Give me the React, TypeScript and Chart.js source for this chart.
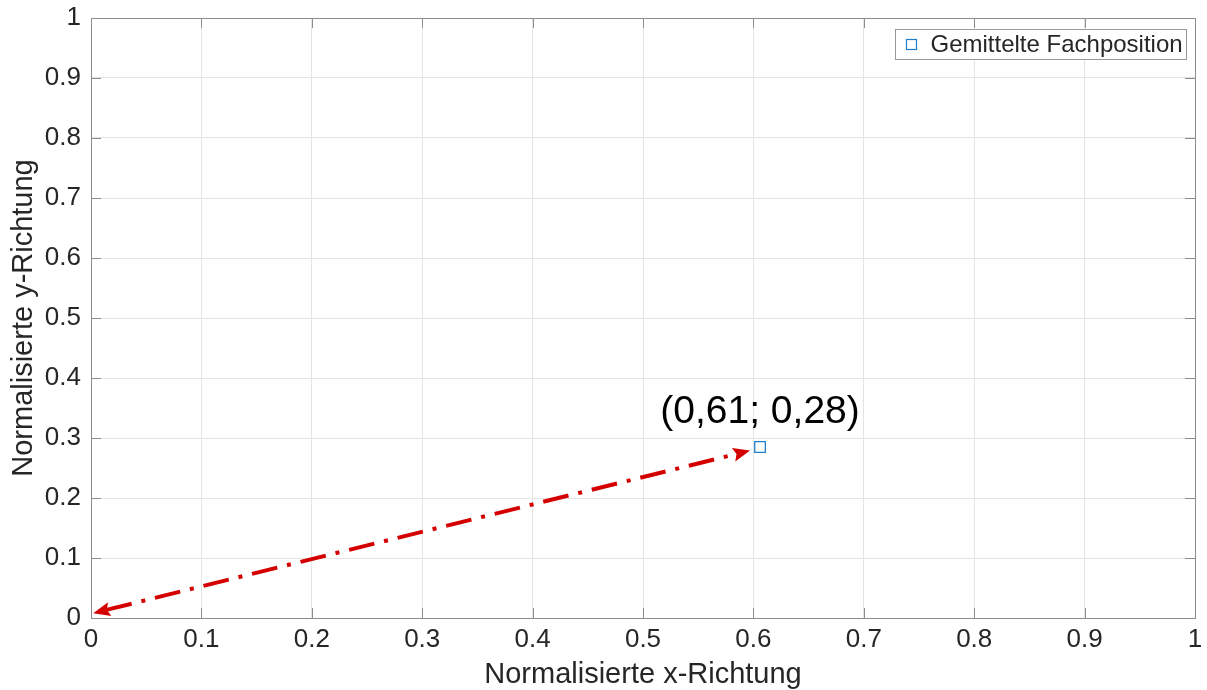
import React, { useEffect, useRef } from 'react';
import { Chart, registerables } from 'chart.js';

Chart.register(...registerables);

const seriesLabel = 'Gemittelte Fachposition';
const pointX = [0.606];
const pointY = [0.285];
const arrowX = [0.002, 0.597];
const arrowY = [0.008, 0.279];
const annotationText = '(0,61; 0,28)';
const annotationX = [0.606];
const annotationY = [0.343];
const xTickLabels = ['0', '0.1', '0.2', '0.3', '0.4', '0.5', '0.6', '0.7', '0.8', '0.9', '1'];
const yTickLabels = ['0', '0.1', '0.2', '0.3', '0.4', '0.5', '0.6', '0.7', '0.8', '0.9', '1'];
const xTitle = 'Normalisierte x-Richtung';
const yTitle = 'Normalisierte y-Richtung';

const FONT = '"Liberation Sans", Arial, Helvetica, sans-serif';
const TEXT = '#262626';
const AXIS = '#8c8c8c';
const GRID = '#e4e4e4';
const BLUE = '#1f7fcf';
const RED = '#d40000';

const decorPlugin = {
  id: 'decor',
  afterDraw(chart: any) {
    const { ctx, chartArea: a, scales } = chart;
    const xs = scales.x;
    const ys = scales.y;
    ctx.save();
    // arrow
    const x0 = xs.getPixelForValue(arrowX[0]);
    const y0 = ys.getPixelForValue(arrowY[0]);
    const x1 = xs.getPixelForValue(arrowX[1]);
    const y1 = ys.getPixelForValue(arrowY[1]);
    const ang = Math.atan2(y1 - y0, x1 - x0);
    const headL = 17;
    const headW = 7;
    const ux = Math.cos(ang);
    const uy = Math.sin(ang);
    ctx.strokeStyle = RED;
    ctx.lineWidth = 4;
    ctx.setLineDash([26, 10, 4, 10]);
    ctx.beginPath();
    ctx.moveTo(x0 + ux * headL * 0.8, y0 + uy * headL * 0.8);
    ctx.lineTo(x1 - ux * headL * 0.8, y1 - uy * headL * 0.8);
    ctx.stroke();
    ctx.setLineDash([]);
    ctx.fillStyle = RED;
    const head = (tx: number, ty: number, dx: number, dy: number) => {
      const bx = tx - dx * headL;
      const by = ty - dy * headL;
      ctx.beginPath();
      ctx.moveTo(tx, ty);
      ctx.lineTo(bx - dy * headW, by + dx * headW);
      ctx.lineTo(bx + dx * 3, by + dy * 3);
      ctx.lineTo(bx + dy * headW, by - dx * headW);
      ctx.closePath();
      ctx.fill();
    };
    head(x1, y1, ux, uy);
    head(x0, y0, -ux, -uy);

    // annotation
    ctx.fillStyle = '#000000';
    ctx.font = `39px ${FONT}`;
    ctx.textAlign = 'center';
    ctx.textBaseline = 'middle';
    ctx.fillText(annotationText, xs.getPixelForValue(annotationX[0]), ys.getPixelForValue(annotationY[0]));

    // box
    ctx.strokeStyle = AXIS;
    ctx.lineWidth = 1;
    ctx.strokeRect(Math.round(a.left) + 0.5, Math.round(a.top) + 0.5, Math.round(a.right - a.left), Math.round(a.bottom - a.top));
    // inward ticks
    const tl = 10;
    ctx.beginPath();
    xs.ticks.forEach((t: any) => {
      const px = Math.round(xs.getPixelForValue(t.value)) + 0.5;
      ctx.moveTo(px, a.bottom);
      ctx.lineTo(px, a.bottom - tl);
      ctx.moveTo(px, a.top);
      ctx.lineTo(px, a.top + tl);
    });
    ys.ticks.forEach((t: any) => {
      const py = Math.round(ys.getPixelForValue(t.value)) + 0.5;
      ctx.moveTo(a.left, py);
      ctx.lineTo(a.left + tl, py);
      ctx.moveTo(a.right, py);
      ctx.lineTo(a.right - tl, py);
    });
    ctx.stroke();

    // legend
    const lw = 291;
    const lh = 30;
    const lx = Math.round(a.right - 9 - lw) + 0.5;
    const ly = Math.round(a.top + 11) + 0.5;
    ctx.fillStyle = '#ffffff';
    ctx.fillRect(lx, ly, lw, lh);
    ctx.strokeStyle = '#9a9a9a';
    ctx.strokeRect(lx, ly, lw, lh);
    ctx.strokeStyle = BLUE;
    ctx.lineWidth = 1.2;
    ctx.strokeRect(lx + 11, ly + 10, 10, 10);
    ctx.fillStyle = TEXT;
    ctx.font = `24px ${FONT}`;
    ctx.textAlign = 'left';
    ctx.textBaseline = 'middle';
    ctx.fillText(seriesLabel, lx + 35, ly + lh / 2 + 1);
    ctx.restore();
  },
};

export default function App() {
  const ref = useRef<HTMLCanvasElement | null>(null);
  useEffect(() => {
    document.body.style.margin = '0';
    const canvas = ref.current;
    if (!canvas) return;
    const chart = new Chart(canvas, {
      type: 'scatter',
      data: {
        datasets: [
          {
            label: seriesLabel,
            data: pointX.map((x, i) => ({ x, y: pointY[i] })),
            pointStyle: 'rect',
            pointRadius: 7.5,
            pointBorderWidth: 1.3,
            pointBorderColor: BLUE,
            pointBackgroundColor: 'rgba(0,0,0,0)',
            borderColor: BLUE,
            backgroundColor: 'rgba(0,0,0,0)',
          },
        ],
      },
      options: {
        animation: false,
        responsive: false,
        maintainAspectRatio: false,
        layout: { padding: { top: 18, right: 12, left: 0, bottom: 0 } },
        plugins: {
          legend: { display: false },
          tooltip: { enabled: false },
        },
        scales: {
          x: {
            type: 'linear',
            min: 0,
            max: 1,
            afterFit: (s: any) => {
              s.height = 72;
              s.paddingLeft = 0;
              s.paddingRight = 0;
            },
            ticks: {
              stepSize: 0.1,
              autoSkip: false,
              maxRotation: 0,
              padding: 6,
              color: TEXT,
              font: { family: FONT, size: 26 },
              callback: (_v: any, i: number) => xTickLabels[i],
            },
            grid: { color: GRID, drawTicks: false, lineWidth: 1 },
            border: { display: false },
            title: {
              display: true,
              text: xTitle,
              color: TEXT,
              font: { family: FONT, size: 29 },
              padding: { top: 0, bottom: -2 },
            },
          },
          y: {
            type: 'linear',
            min: 0,
            max: 1,
            afterFit: (s: any) => {
              s.width = 91;
              s.paddingTop = 0;
              s.paddingBottom = 0;
            },
            ticks: {
              stepSize: 0.1,
              autoSkip: false,
              padding: 10,
              color: TEXT,
              font: { family: FONT, size: 26 },
              callback: (_v: any, i: number) => yTickLabels[i],
            },
            grid: { color: GRID, drawTicks: false, lineWidth: 1 },
            border: { display: false },
            title: {
              display: true,
              text: yTitle,
              color: TEXT,
              font: { family: FONT, size: 29 },
              padding: { top: 7, bottom: 0 },
            },
          },
        },
      },
      plugins: [decorPlugin],
    } as any);
    return () => chart.destroy();
  }, []);
  return (
    <div style={{ position: 'fixed', left: 0, top: 0, width: 1207, height: 690, background: '#ffffff' }}>
      <canvas ref={ref} width={1207} height={690} style={{ width: 1207, height: 690 }} />
    </div>
  );
}
